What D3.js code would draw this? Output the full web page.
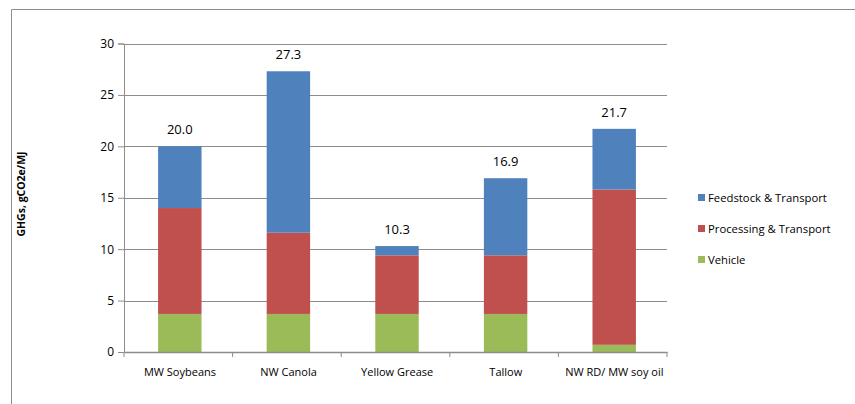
<!DOCTYPE html>
<html><head><meta charset="utf-8">
<script src="https://cdn.jsdelivr.net/npm/d3@7"></script>
<style>
html,body{margin:0;padding:0;background:#fff;}
svg{display:block;font-family:"Open Sans","Noto Sans",sans-serif;}
</style></head>
<body>
<svg id="c" width="855" height="404"></svg>
<script>
const categories = ["MW Soybeans", "NW Canola", "Yellow Grease", "Tallow", "NW RD/ MW soy oil"];
const vehicle    = [3.7, 3.7, 3.7, 3.7, 0.7];
const processing = [10.3, 7.9, 5.7, 5.7, 15.1];
const feedstock  = [6.0, 15.7, 0.9, 7.5, 5.9];
const totals     = ["20.0", "27.3", "10.3", "16.9", "21.7"];
const seriesNames = ["Vehicle", "Processing & Transport", "Feedstock & Transport"];
const seriesColors = ["#9BBB59", "#C0504D", "#4F81BD"];
const yTicks = [0, 5, 10, 15, 20, 25, 30];
const yTitle = "GHGs, gCO2e/MJ";

const svg = d3.select("#c");
// outer frame
svg.append("path").attr("d","M11.5,404 L11.5,9.5 L855,9.5").attr("fill","none").attr("stroke","#8c8c8c").attr("stroke-width",1);

const x = d3.scaleBand().domain(categories).range([125.5, 668.5]).paddingInner(0.6).paddingOuter(0.3);
const xb = d3.scaleBand().domain(categories).range([124, 667]);
const y = d3.scaleLinear().domain([0, 30]).range([352, 43.5]);

// gridlines
svg.append("g").selectAll("line").data(yTicks.filter(t=>t>0)).join("line")
  .attr("x1",124).attr("x2",667).attr("y1",d=>Math.round(y(d))+0.5).attr("y2",d=>Math.round(y(d))+0.5)
  .attr("stroke","#8c8c8c").attr("stroke-width",1);

// stacked bars
const data = categories.map((c,i)=>({cat:c, v0:vehicle[i], v1:processing[i], v2:feedstock[i]}));
const stack = d3.stack().keys(["v0","v1","v2"])(data);
svg.append("g").selectAll("g").data(stack).join("g")
  .attr("fill",(d,i)=>seriesColors[i])
  .selectAll("rect").data(d=>d).join("rect")
  .attr("x",d=>x(d.data.cat)).attr("width",x.bandwidth())
  .attr("y",d=>y(d[1])).attr("height",d=>y(d[0])-y(d[1]));

// total labels
svg.append("g").selectAll("text").data(data).join("text")
  .attr("x",d=>x(d.cat)+x.bandwidth()/2)
  .attr("y",(d,i)=>y(d.v0+d.v1+d.v2)-12)
  .attr("text-anchor","middle").attr("font-size",13).attr("fill","#000")
  .text((d,i)=>totals[i]);

// y axis
const yAxis = svg.append("g").attr("transform","translate(124,0)")
  .call(d3.axisLeft(y).tickValues(yTicks).tickSize(6).tickPadding(4));
yAxis.select(".domain").attr("stroke","#8c8c8c");
yAxis.selectAll(".tick line").attr("stroke","#8c8c8c");
yAxis.selectAll("text").attr("font-size",12).attr("fill","#000").attr("font-family","Open Sans, sans-serif");

// x axis
const xAxis = svg.append("g").attr("transform","translate(0,352)")
  .call(d3.axisBottom(xb).tickSize(0).tickPadding(16));
xAxis.select(".domain").attr("stroke","#8c8c8c").attr("stroke-width",1.5);
xAxis.selectAll("text").attr("font-size",11).attr("fill","#000").attr("font-family","Open Sans, sans-serif")
  .attr("dx","0.15em");
svg.append("g").selectAll("line").data(d3.range(categories.length+1)).join("line")
  .attr("x1",i=>124+i*xb.step()).attr("x2",i=>124+i*xb.step())
  .attr("y1",352).attr("y2",357).attr("stroke","#8c8c8c");

// y title
svg.append("text").attr("transform","translate(25,194) rotate(-90)")
  .attr("text-anchor","middle").attr("font-size",10.5).attr("font-weight","bold")
  .text(yTitle);

// legend
const legOrder = [2,1,0];
const lg = svg.append("g").selectAll("g").data(legOrder).join("g")
  .attr("transform",(d,i)=>`translate(698,${198+i*31})`);
lg.append("rect").attr("x",0).attr("y",-4).attr("width",7).attr("height",7).attr("fill",d=>seriesColors[d]);
lg.append("text").attr("x",10).attr("y",0).attr("dy","0.35em").attr("font-size",11.3).text(d=>seriesNames[d]);
</script>
</body></html>
